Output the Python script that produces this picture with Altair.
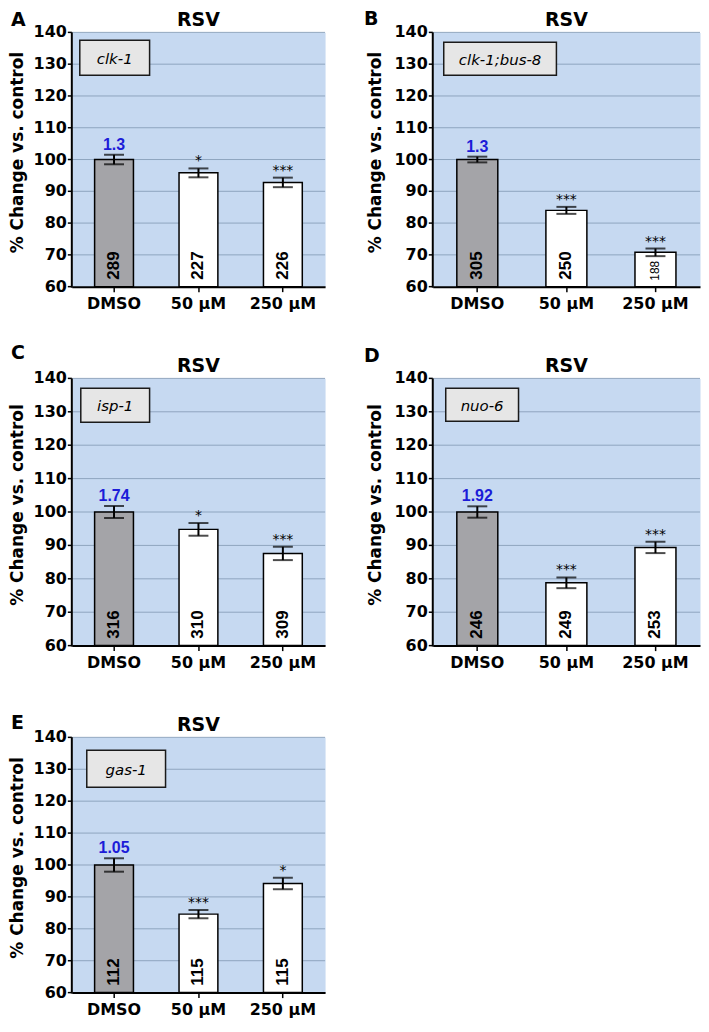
import altair as alt
import pandas as pd

cats = ["DMSO", "50 μM", "250 μM"]
panel_keys = ["A", "B", "C", "D", "E"]
strains = ["clk-1", "clk-1;bus-8", "isp-1", "nuo-6", "gas-1"]
means = {
    "A": [100, 95.8, 92.8],
    "B": [100, 84.0, 70.8],
    "C": [100, 94.8, 87.6],
    "D": [100, 78.8, 89.4],
    "E": [100, 84.6, 94.2],
}
errs = {
    "A": [1.5, 1.4, 1.5],
    "B": [0.9, 1.1, 1.2],
    "C": [1.8, 1.9, 2.0],
    "D": [1.7, 1.6, 1.7],
    "E": [2.1, 1.3, 1.8],
}
counts = {
    "A": [289, 227, 226],
    "B": [305, 250, 188],
    "C": [316, 310, 309],
    "D": [246, 249, 253],
    "E": [112, 115, 115],
}
stars = {
    "A": ["", "*", "***"],
    "B": ["", "***", "***"],
    "C": ["", "*", "***"],
    "D": ["", "***", "***"],
    "E": ["", "***", "*"],
}
ratio = {"A": "1.3", "B": "1.3", "C": "1.74", "D": "1.92", "E": "1.05"}
title_text = "RSV"
y_title = "% Change vs. control"
y_ticks = [60, 70, 80, 90, 100, 110, 120, 130, 140]
y_min = 60
y_max = 140

BIG = "DejaVu Sans"
ARIAL = "Liberation Sans"
GRID = "#8fa5bf"


def panel(key, strain, width, height, letter_x, letter_y, box, title_x):
    df = pd.DataFrame({
        "cat": cats,
        "val": means[key],
        "err": errs[key],
        "n": counts[key],
        "star": stars[key],
        "ratio": [ratio[key], "", ""],
    })
    df["lo"] = df["val"] - df["err"]
    df["hi"] = df["val"] + df["err"]
    df["base"] = y_min

    tdf = pd.DataFrame({"t": y_ticks})

    xenc = alt.X("cat:N", sort=cats,
                 scale=alt.Scale(paddingInner=0.54, paddingOuter=0.27),
                 axis=alt.Axis(title=None, labelAngle=0, tickSize=5, labelPadding=4,
                               grid=False))
    yscale = alt.Scale(domain=[y_min, y_max], zero=False, nice=False)

    def Y(field):
        return alt.Y(field, type="quantitative", scale=yscale, axis=None)

    # manual y axis (grid, ticks, labels, domain, title)
    tch = alt.Chart(tdf)
    grid = tch.transform_filter(alt.datum.t > y_min).mark_rule(color=GRID, strokeWidth=1).encode(
        y=Y("t"), x=alt.value(0), x2=alt.value(width))
    yticks = tch.mark_rule(color="black", strokeWidth=1.5).encode(
        y=Y("t"), x=alt.value(-4), x2=alt.value(0))
    ylabels = tch.mark_text(font=BIG, fontSize=16, fontWeight="bold", align="right",
                            baseline="middle", color="black").encode(
        y=Y("t"), x=alt.value(-5), text="t:Q")

    base = alt.Chart(df).encode(x=xenc)

    bars = base.mark_bar(stroke="black", strokeWidth=1.5).encode(
        y=Y("val"), y2="base",
        fill=alt.condition(alt.datum.cat == "DMSO", alt.value("#a4a4a8"), alt.value("white")),
    )
    rule = base.mark_rule(color="black", strokeWidth=2).encode(y=Y("lo"), y2="hi")
    cap_lo = base.mark_tick(color="black", thickness=2, size=20).encode(y=Y("lo"))
    cap_hi = base.mark_tick(color="black", thickness=2, size=20).encode(y=Y("hi"))
    star_t = base.mark_text(font=BIG, fontSize=14, baseline="bottom", dy=0, color="black").encode(
        y=Y("hi"), text="star")
    ratio_t = base.mark_text(font=ARIAL, fontSize=16, fontWeight="bold", baseline="bottom",
                             dy=-2, color="#1c1cd8").encode(y=Y("hi"), text="ratio")
    n_big = base.transform_filter(alt.datum.val >= 75).mark_text(
        font=ARIAL, fontSize=17, fontWeight="bold", angle=270, align="left",
        baseline="middle", dx=7, color="black").encode(y=Y("base"), text="n:N")
    n_small = base.transform_filter(alt.datum.val < 75).mark_text(
        font=ARIAL, fontSize=12, angle=270, align="left",
        baseline="middle", dx=6, color="black").encode(y=Y("base"), text="n:N")

    one = pd.DataFrame({"strain": [strain], "letter": [key], "title": [title_text],
                        "ytitle": [y_title]})
    oc = alt.Chart(one)
    ydomain = oc.mark_rule(color="black", strokeWidth=2).encode(
        x=alt.value(0), y=alt.value(0), y2=alt.value(height + 1))
    ytitle = oc.mark_text(font=BIG, fontSize=17, fontWeight="bold", angle=270,
                          align="center", baseline="bottom", color="black").encode(
        x=alt.value(title_x), y=alt.value(height / 2 - 7), text="ytitle")
    bx0, by0, bx1, by1 = box
    box_m = oc.mark_rect(fill="#e6e6e6", stroke="#1a1a1a", strokeWidth=1.5).encode(
        x=alt.value(bx0), x2=alt.value(bx1), y=alt.value(by0), y2=alt.value(by1))
    box_t = oc.mark_text(font=BIG, fontStyle="italic", fontSize=15,
                         baseline="middle", align="center", color="black").encode(
        x=alt.value((bx0 + bx1) / 2), y=alt.value((by0 + by1) / 2 + 1), text="strain")
    title_m = oc.mark_text(font=BIG, fontSize=19, fontWeight="bold",
                           baseline="alphabetic", align="center", color="black").encode(
        x=alt.value(width / 2), y=alt.value(-6), text="title")
    letter_m = oc.mark_text(font=BIG, fontSize=19, fontWeight="bold",
                            baseline="alphabetic", align="left", color="black").encode(
        x=alt.value(letter_x), y=alt.value(letter_y), text="letter")

    return alt.layer(grid, bars, rule, cap_lo, cap_hi, star_t, ratio_t, n_big, n_small,
                     yticks, ylabels, ydomain, ytitle,
                     box_m, box_t, title_m, letter_m).properties(width=width, height=height)


pA = panel("A", strains[0], 254, 255, -61, -6, (8, 8, 78, 43), -45)
pB = panel("B", strains[1], 268, 255, -69, -7, (11, 10, 124, 43), -48)
pC = panel("C", strains[2], 254, 268, -61, -19, (9, 10, 78, 44), -45)
pD = panel("D", strains[3], 268, 268, -69, -16, (13, 10, 86, 43), -48)
pE = panel("E", strains[4], 254, 256, -61, -8, (15, 13, 94, 50), -45)

chart = alt.concat(pA, pB, pC, pD, pE, columns=2, spacing={"row": 92, "column": 108},
                   bounds="flush").properties(padding=0).configure_view(
    fill="#c6d9f1", stroke="transparent"
).configure_axis(
    domainColor="black", domainWidth=2, tickColor="black", tickWidth=1.5,
    labelFont=BIG, labelFontSize=16, labelFontWeight="bold", labelColor="black",
    titleFont=BIG, titleFontSize=17, titleFontWeight="bold", titleColor="black",
)

chart.save("out.html", embed_options={"renderer": "svg", "actions": False})
